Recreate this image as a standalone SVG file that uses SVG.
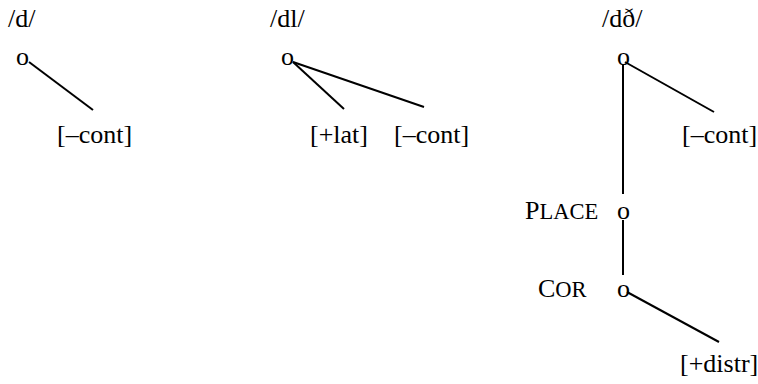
<svg xmlns="http://www.w3.org/2000/svg" width="758" height="384" viewBox="0 0 758 384">
  <style>
    text { font-family: "Liberation Serif", "Times New Roman", serif; font-size: 26px; fill: #000; }
    .sc { font-size: 22.5px; }
    .edge { stroke: #000; stroke-width: 2; fill: none; }
  </style>
  <rect width="758" height="384" fill="#fff"/>

  <!-- connectors -->
  <g id="connectors">
    <line class="edge" x1="29" y1="62" x2="93" y2="110"/>
    <line class="edge" x1="293" y1="62" x2="344" y2="109"/>
    <line class="edge" x1="293" y1="62" x2="424" y2="107"/>
    <line class="edge" x1="623" y1="64" x2="623" y2="194"/>
    <line class="edge" x1="625" y1="62" x2="714" y2="112"/>
    <line class="edge" x1="623" y1="220" x2="623" y2="275"/>
    <line class="edge" x1="627" y1="292" x2="719" y2="342"/>
  </g>

  <!-- /d/ -->
  <g id="seg-d">
    <text x="8" y="27">/d/</text>
    <text x="16" y="65">o</text>
    <text x="57" y="143">[–cont]</text>
  </g>

  <!-- /dl/ -->
  <g id="seg-dl">
    <text x="270" y="27">/dl/</text>
    <text x="281" y="65">o</text>
    <text x="310" y="143">[+lat]</text>
    <text x="394" y="143">[–cont]</text>
  </g>

  <!-- /dð/ -->
  <g id="seg-ddh">
    <text x="602" y="27">/dð/</text>
    <text x="617" y="65">o</text>
    <text x="682" y="143">[–cont]</text>
  </g>

  <g id="place">
    <text x="525" y="219">P<tspan class="sc">LACE</tspan></text>
    <text x="617" y="219">o</text>
  </g>

  <g id="cor">
    <text x="538" y="297">C<tspan class="sc">OR</tspan></text>
    <text x="617" y="297">o</text>
    <text x="680" y="372">[+distr]</text>
  </g>
</svg>
